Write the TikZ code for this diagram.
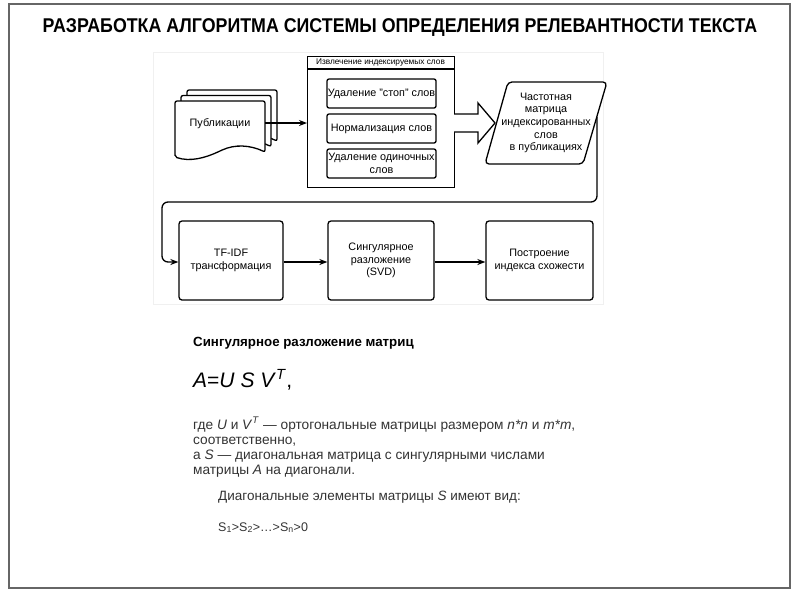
\documentclass[tikz,border=0pt]{standalone}
\usepackage{fontspec}
\setmainfont{Liberation Sans}
\usetikzlibrary{arrows.meta}
\begin{document}
\begin{tikzpicture}[x=1pt,y=-1pt,
  lw/.style={line width=1.3pt},
  box/.style={draw, lw, rounded corners=3pt, align=center, font=\fontsize{10.8}{12.8}\selectfont, inner sep=0pt},
  inbox/.style={box, rounded corners=2pt, minimum width=109pt, minimum height=29pt},
  bigbox/.style={box, minimum height=79pt},
  conn/.style={lw, -{Stealth[length=8pt,width=6pt]}},
  doc/.style={draw, lw, fill=white, rounded corners=2pt},
  txt/.style={anchor=base west, inner sep=0pt, font=\fontsize{13.7}{15}\selectfont, text=black!80},
]
\useasboundingbox (0,0) rectangle (800,600);
\fill[white] (0,0) rectangle (800,600);
\draw[black!60, line width=1.6pt] (9,4) rectangle (790,588);
% title
\node[font=\fontsize{17.8}{20}\bfseries\selectfont, inner sep=0pt] (title) at (400,27.5) {\scalebox{1}[1.12]{РАЗРАБОТКА АЛГОРИТМА СИСТЕМЫ ОПРЕДЕЛЕНИЯ РЕЛЕВАНТНОСТИ ТЕКСТА}};
% diagram panel
\draw[black!6, line width=0.8pt] (153,52) rectangle (603,304);
% document stack
\foreach \dx/\dy in {12/-11, 6/-5.5, 0/0}{
  \begin{scope}[shift={(\dx,\dy)}]
    \draw[doc] (175,157) -- (175,101) -- (265,101) -- (265,152)
      .. controls (250,145) and (235,144) .. (220,151)
      .. controls (205,158) and (190,162) .. (175,157) -- cycle;
  \end{scope}
}
\node[font=\fontsize{10.8}{12.8}\selectfont, inner sep=0pt] (pub) at (220,124) {Публикации};
\coordinate (pubR) at (265,123);
% extraction container
\node[draw, lw, minimum width=147pt, minimum height=131pt, anchor=north west, inner sep=0pt] (ext) at (307,56) {};
\draw[lw] (307,69) -- (454,69);
\node[font=\fontsize{8.3}{10}\selectfont, inner sep=0pt] (exth) at (380.5,62.5) {Извлечение индексируемых слов};
\node[inbox] (b1) at (381.5,93.5) {Удаление "стоп" слов};
\node[inbox] (b2) at (381.5,128.5) {Нормализация слов};
\node[inbox] (b3) at (381.5,163.5) {Удаление одиночных\\слов};
\draw[conn] (pubR) -- (ext.west |- pubR);
% hollow arrow
\draw[lw, fill=white, line join=miter] (454,114) -- (478,114) -- (478,103) -- (495,123) -- (478,143) -- (478,132) -- (454,132);
% parallelogram
\draw[lw, fill=white, rounded corners=4pt] (508,82) -- (607,82) -- (583,164) -- (485,164) -- cycle;
\node[align=center, font=\fontsize{10.8}{12.6}\selectfont, inner sep=0pt] (mat) at (546,123) {Частотная\\матрица\\индексированных\\слов\\в публикациях};
\coordinate (matR) at (597,117);
% bottom row
\node[bigbox, minimum width=104pt] (tf) at (231,260.5) {TF-IDF\\трансформация};
\node[bigbox, minimum width=106pt] (svd) at (381,260.5) {Сингулярное\\разложение\\(SVD)};
\node[bigbox, minimum width=107pt] (idx) at (539.5,260.5) {Построение\\индекса схожести};
\draw[conn, rounded corners=6pt] (matR) -- (597,202) -- (162,202) -- (162,262) -- (tf.west |- 0,262);
\draw[conn] (tf.east |- 0,262) -- (svd.west |- 0,262);
\draw[conn] (svd.east |- 0,262) -- (idx.west |- 0,262);
% text
\node[txt, font=\fontsize{13.3}{15}\bfseries\selectfont, text=black] (h) at (193,346) {Сингулярное разложение матриц};
\node[txt, font=\fontsize{21}{26}\selectfont, text=black] (eq) at (193,387) {\textit{A}=\textit{U} \textit{S} \textit{V}\textsuperscript{\textit{T}},};
\node[txt] (p1) at (193,429) {где \textit{U} и \textit{V}\textsuperscript{\textit{T}} — ортогональные матрицы размером \textit{n*n} и \textit{m*m},};
\node[txt] (p2) at (193,444) {соответственно,};
\node[txt] (p3) at (193,459) {а \textit{S} — диагональная матрица с сингулярными числами};
\node[txt] (p4) at (193,474) {матрицы \textit{A} на диагонали.};
\node[txt, font=\fontsize{13.5}{15}\selectfont] (p5) at (218,500) {Диагональные элементы матрицы \textit{S} имеют вид:};
\node[txt, font=\fontsize{12.5}{14}\selectfont] (p6) at (218,531) {S\textsubscript{1}>S\textsubscript{2}>…>S\textsubscript{n}>0};
\end{tikzpicture}
\end{document}
